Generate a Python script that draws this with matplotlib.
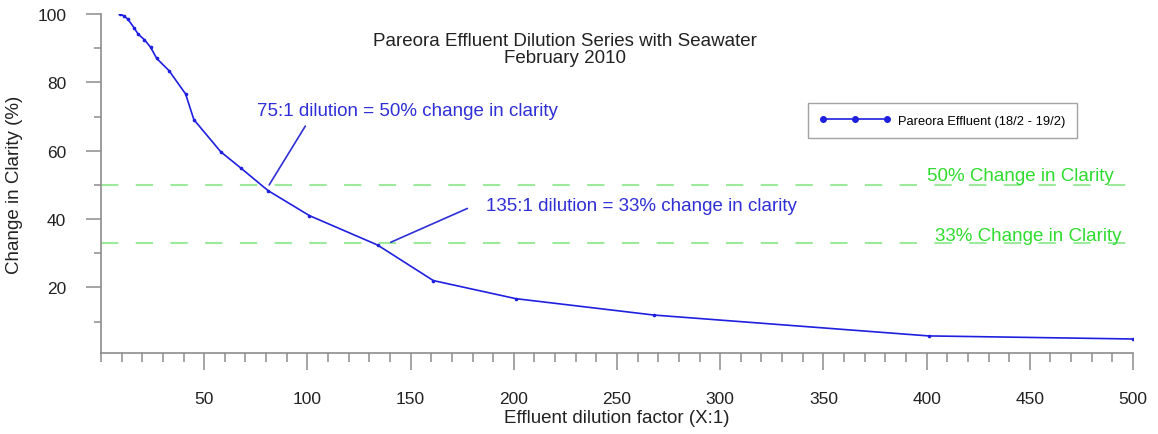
import matplotlib
matplotlib.use("Agg")
import matplotlib.pyplot as plt
from matplotlib.ticker import MultipleLocator

plt.rcParams['font.family'] = ['Liberation Sans', 'DejaVu Sans']
plt.rcParams['lines.scale_dashes'] = False

# Data
dilution = [9, 11, 13, 16, 18, 21, 24, 27, 33, 41, 45, 58, 68, 81, 101, 134,
            161, 201, 268, 401, 500]
clarity_change = [100, 99.5, 98.5, 96, 94.1, 92.5, 90.3, 87, 83.4, 76.6, 69.1,
                  59.7, 54.8, 48.3, 41, 32.4, 22, 16.7, 11.9, 5.8, 4.9]
series_label = "Pareora Effluent (18/2 - 19/2)"
thresholds = [50, 33]
threshold_labels = ["50% Change in Clarity", "33% Change in Clarity"]
title_lines = "Pareora Effluent Dilution Series with Seawater\nFebruary 2010"
ann_texts = ["75:1 dilution = 50% change in clarity",
             "135:1 dilution = 33% change in clarity"]

BLUE = '#1f1fe0'
TEXT_BLUE = '#2f2fd6'
GREEN_TXT = '#2edc2e'
GREEN_LINE = '#9ceb9c'
GRAY = '#8c8c8c'

fig = plt.figure(figsize=(11.58, 4.35), dpi=100)
ax = fig.add_axes([0.0872, 0.1862, 0.9784 - 0.0872, 0.9655 - 0.1862])

ax.set_xlim(0, 500)
ax.set_ylim(0.8, 100)

for t in thresholds:
    ax.axhline(t, color=GREEN_LINE, lw=1.5, dashes=(12.5, 12.5), zorder=1)

ax.plot(dilution, clarity_change, color=BLUE, lw=1.2, marker='o', ms=1.6,
        mfc=BLUE, mec=BLUE, label=series_label, zorder=3)

# Annotations
ax.annotate('', xy=(81.5, 50), xytext=(99, 67.2),
            arrowprops=dict(arrowstyle='-', color=TEXT_BLUE, lw=1.2,
                            shrinkA=0, shrinkB=0))
ax.text(75.8, 71.7, ann_texts[0], color=TEXT_BLUE, fontsize=13.5,
        ha='left', va='center')
ax.annotate('', xy=(140.4, 33.2), xytext=(177.5, 43.1),
            arrowprops=dict(arrowstyle='-', color=TEXT_BLUE, lw=1.2,
                            shrinkA=0, shrinkB=0))
ax.text(186.3, 43.9, ann_texts[1], color=TEXT_BLUE, fontsize=13.5,
        ha='left', va='center')

ax.text(400.1, 52.7, threshold_labels[0], color=GREEN_TXT, fontsize=13.5,
        ha='left', va='center')
ax.text(404.0, 35.1, threshold_labels[1], color=GREEN_TXT, fontsize=13.5,
        ha='left', va='center')

# Axes styling
for s in ['top', 'right']:
    ax.spines[s].set_visible(False)
for s in ['left', 'bottom']:
    ax.spines[s].set_color(GRAY)
    ax.spines[s].set_linewidth(1.2)

ax.xaxis.set_minor_locator(MultipleLocator(10))
ax.yaxis.set_minor_locator(MultipleLocator(10))
ax.set_xticks([50, 100, 150, 200, 250, 300, 350, 400, 450, 500])
ax.set_yticks([20, 40, 60, 80, 100])
ax.tick_params(axis='x', which='major', length=12.5, width=1.1, color=GRAY,
               pad=15, labelsize=12.5, labelcolor='#222222')
ax.tick_params(axis='x', which='minor', length=6.5, width=1.1, color=GRAY)
ax.tick_params(axis='y', which='major', length=11, width=1.1, color=GRAY,
               pad=14, labelsize=12.5, labelcolor='#222222')
ax.tick_params(axis='y', which='minor', length=5, width=1.1, color=GRAY)

ax.set_xlabel("Effluent dilution factor (X:1)", fontsize=13.5, color='#222222',
              labelpad=2)
ax.set_ylabel("Change in Clarity (%)", fontsize=13.5, color='#222222',
              labelpad=10)

fig.text(564.5 / 1158, 1 - 50 / 435, title_lines, ha='center', va='center',
         fontsize=13.5, color='#222222', linespacing=1.05)

leg = ax.legend(loc='upper left', bbox_to_anchor=(0.685, 0.737), fontsize=9.3,
                frameon=True, fancybox=False, numpoints=3, handlelength=5.5,
                borderpad=0.9, handletextpad=0.6, borderaxespad=0)
leg.get_frame().set_edgecolor(GRAY)
leg.get_frame().set_linewidth(1.0)
for h in leg.legend_handles:
    h.set_markersize(4)

fig.savefig("out.png", dpi=100)
